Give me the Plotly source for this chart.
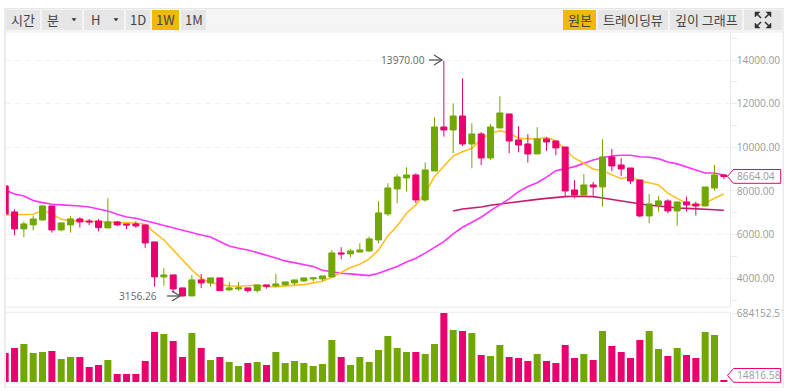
import plotly.graph_objects as go

opens = [8230,7040,6260,6445,6672,7313,6214,6445,6718,6625,6625,6306,6580,6490,6490,6443,5664,4061,4153,3558,3190,3924,3786,4016,3466,3512,3558,3435,3695,3650,3695,3786,3878,3970,3970,4061,5161,5115,5206,5252,5756,6947,8092,8596,8733,7588,8916,10932,10794,11435,10153,10611,9512,10886,11527,10336,10153,9695,10382,10290,10015,8046,7817,8275,8183,9558,9190,9053,8504,6855,7360,7543,7085,7497,7405,7313,8138,8733]
closes = [6947,6260,6490,6718,7313,6214,6535,6718,6580,6580,6320,6580,6443,6443,6397,5618,4061,4153,3512,3190,3924,3786,4016,3435,3558,3558,3435,3695,3635,3741,3833,3924,4016,4016,4107,5161,5115,5252,5298,5802,6993,8138,8640,8733,7588,8962,10932,10794,11435,10153,10611,9512,10932,11573,10290,10107,9695,10382,10245,9970,8000,7817,8275,8183,9558,9145,9008,8458,6855,7405,7543,7085,7497,7360,7313,8183,8733,8664.04]
highs = [8230,7160,6595,6870,7350,7313,6560,6855,6795,6718,6718,7665,6625,6490,6600,6443,5664,4460,4153,3558,4153,4200,4016,4016,3830,3830,3558,3695,3695,4200,3833,3924,4016,4016,4107,5298,5420,5345,5605,5920,7530,8350,8765,9085,8810,9310,11376,13970,12015,13160,11100,10700,11070,12337,11527,10960,10600,10920,10460,10290,10015,8504,8780,8412,10370,9925,9500,9053,8504,7863,7770,7620,7497,7740,7510,8183,9190,8760]
lows = [6900,5970,5880,6200,6640,6090,6150,6090,6320,6430,6150,6306,6397,6245,6310,5390,3620,3660,3330,3156.26,3190,3545,3620,3435,3440,3420,3340,3340,3525,3600,3695,3680,3830,3850,3870,4061,4870,4965,5180,5200,5605,6855,7440,7970,7440,7510,8916,10490,9727,10060,9040,9180,9420,10886,9727,9770,9300,9695,9845,9635,7770,7665,7760,7785,7280,8900,8675,8320,6795,6520,7050,6980,6410,7050,6870,7313,8020,8550]
volumes = [287500,337100,376800,287500,297500,307400,228000,247900,247900,148700,168600,218100,79300,79300,79300,208200,495800,475900,406500,247900,485800,337100,218100,247900,198300,158600,188400,198300,168600,297500,188400,208200,188400,158600,178500,416400,247900,168600,247900,198300,317300,456100,337100,297500,297500,277600,376800,684152.51,515600,505700,485800,267700,257800,366900,247900,238000,208200,277600,208200,188400,366900,238000,277600,218100,505700,357000,297500,238000,416400,505700,327200,257800,337100,267700,238000,495800,466000,14816.58]
ma_fast = [6900,6900,6915,6930,7100,6950,6700,6640,6625,6610,6580,6565,6550,6550,6530,6475,6090,5756,5298,4810,4382,4000,3800,3710,3650,3635,3660,3680,3620,3600,3650,3680,3710,3787,3865,4050,4260,4490,4645,4885,5298,5940,6400,6980,7360,7900,8660,9115,9600,9800,9955,10370,10640,10750,10670,10410,10400,10380,10460,10300,9900,9500,9270,9000,8930,8733,8565,8660,8470,8380,8275,7900,7665,7420,7310,7435,7665,7860]
ma_mid = [8046,7863,7770,7560,7465,7390,7360,7345,7313,7268,7190,7085,6930,6810,6750,6640,6520,6430,6290,6214,6090,5985,5890,5680,5480,5375,5298,5175,5070,4930,4795,4705,4625,4535,4370,4305,4230,4200,4155,4120,4230,4380,4540,4745,4920,5150,5420,5680,6030,6335,6565,6795,7100,7375,7635,7970,8200,8380,8630,8930,9040,9115,9270,9420,9525,9600,9635,9635,9570,9545,9480,9330,9240,9115,8960,8825,8825,8735]
ma_slow = [None]*48 + [7085,7175,7220,7265,7345,7405,7465,7525,7570,7615,7660,7710,7740,7755,7755,7740,7680,7615,7555,7495,7405,7345,7310,7250,7220,7200,7190,7160,7140,7115]
price_ticks = [14000, 12000, 10000, 8000, 6000, 4000]
price_labels = ["14000.00", "12000.00", "10000.00", "8000.00", "6000.00", "4000.00"]
left_buttons = [("시간",6,40,False),("분",42,82,False),("H",84,124,False),("1D",126,150,False),("1W",152,179,True),("1M",181,206,False)]
right_buttons = [("원본",563,596,True),("트레이딩뷰",598,668,False),("깊이 그래프",670,742,False)]

W, H = 788, 391
PINK, GREEN = "#EB006F", "#71A700"
BORDER, GRID = "#EBEBEB", "#F2F2F2"
TXT, TICK = "#444444", "#9A9A9A"
FONT_NUM = "Open Sans"
FONT_KR = "Noto Sans CJK KR"
NUM_SIZE = 10.2
xp = lambda x: x / W
yp = lambda y: 1 - y / H
X0, X1 = 5.0, 729.7
STEP, C0 = 9.333, 5.2
PT, PB = 32.0, 307.0
VT, VB = 312.0, 387.0
PPX = 2000 / 43.65
VPX = 684152.51 / 69

xs = list(range(len(opens)))
vol_colors = [GREEN if c >= o else PINK for o, c in zip(opens, closes)]
price_range = [14000 - (PB - 60) * PPX, 14000 + (60 - PT) * PPX]
vol_range = [-(VB - 382) * VPX, (382 - VT) * VPX]
x_range = [(X0 - C0) / STEP, (X1 - C0) / STEP]

fig = go.Figure()
for vals, col in [(ma_slow, "#C71A6E"), (ma_mid, "#FF33FF"), (ma_fast, "#FFC125")]:
    fig.add_trace(go.Scatter(x=xs, y=vals, mode="lines", line=dict(color=col, width=1.6),
                             xaxis="x", yaxis="y", hoverinfo="skip", connectgaps=False))
fig.add_trace(go.Candlestick(x=xs, open=opens, high=highs, low=lows, close=closes,
                             increasing=dict(line=dict(color=GREEN, width=1), fillcolor=GREEN),
                             decreasing=dict(line=dict(color=PINK, width=1), fillcolor=PINK),
                             whiskerwidth=0, xaxis="x", yaxis="y3"))
fig.add_trace(go.Bar(x=xs, y=volumes, marker=dict(color=vol_colors, line=dict(width=0)),
                     width=0.75, xaxis="x2", yaxis="y2", hoverinfo="skip"))

shapes, ann = [], []

def rect(x0, y0, x1, y1, fill, line=None, layer="above"):
    shapes.append(dict(type="rect", xref="paper", yref="paper", x0=xp(x0), x1=xp(x1), y0=yp(y0), y1=yp(y1),
                       fillcolor=fill, line=dict(width=0 if line is None else 1, color=line or fill), layer=layer))

def seg(pts, color, width=1, fill=None):
    d = "M" + " L".join(f"{xp(a):.5f},{yp(b):.5f}" for a, b in pts)
    if fill:
        d += " Z"
    shapes.append(dict(type="path", xref="paper", yref="paper", path=d,
                       line=dict(color=color, width=width), fillcolor=fill or "rgba(0,0,0,0)", layer="above"))

def label(x, y, text, color=TXT, size=12, font=FONT_KR, anchor="center"):
    ann.append(dict(xref="paper", yref="paper", x=xp(x), y=yp(y), text=text, showarrow=False,
                    xanchor=anchor, yanchor="middle", borderpad=0,
                    font=dict(family=font, size=size, color=color)))

# frame and panel borders
rect(783, 300, 788, 330, "#FFFFFF")
rect(4, 8, 6, 388, BORDER)
rect(782.5, 8, 784, 388, BORDER)
rect(5, 8, 783, 9.5, "#E6E6E6")
rect(6, 9.5, 782.5, 31.5, "#F5F5F5")
rect(5, 31.5, 783, 32.5, BORDER)
rect(5, 306.7, 730, 307.7, BORDER)
rect(5, 311.7, 730, 312.7, BORDER)
rect(5, 386.5, 783, 387.5, BORDER)

# toolbar
for text, a, b, active in left_buttons + right_buttons:
    rect(a, 10, b, 30, "#F0B90B" if active else "#E6E6E6")
    cx = (a + b) / 2
    if text in ("분", "H"):
        cx = a + 11
        seg([(b - 10, 18.5), (b - 6, 18.5), (b - 8, 21)], "#333333", 0.5, "#333333")
    label(cx, 20, text, size=13)
rect(744, 10, 782.3, 30, "#E6E6E6")
for sx, sy in [(-1, -1), (1, -1), (-1, 1), (1, 1)]:
    cx, cy = 763, 20
    seg([(cx + sx * 2, cy + sy * 2), (cx + sx * 7, cy + sy * 7)], "#333333", 1.5)
    seg([(cx + sx * 8, cy + sy * 8), (cx + sx * 3, cy + sy * 8), (cx + sx * 8, cy + sy * 3)], "#333333", 0.5, "#333333")

# high / low markers
label(425.5, 59.5, "13970.00", color="#666666", size=NUM_SIZE, font=FONT_NUM, anchor="right")
seg([(429, 60), (442, 60)], "#555555", 1.3)
seg([(434, 55), (442, 60), (434, 65)], "#555555", 1.3)
label(158, 295.5, "3156.26", color="#666666", size=NUM_SIZE, font=FONT_NUM, anchor="right")
seg([(167, 296), (180, 296)], "#555555", 1.3)
seg([(172, 291), (180, 296), (172, 301)], "#555555", 1.3)

# last-value tags
for text, ya, yb in [("8664.04", 169.5, 183.3), ("14816.58", 368.5, 382.3)]:
    ym = (ya + yb) / 2
    d = [(727.5, ym), (733.5, ya), (780.7, ya), (780.7, yb), (733.5, yb)]
    seg(d, PINK, 1, "#FFFFFF")
    label(736, ym, text, color=TICK, size=NUM_SIZE, font=FONT_NUM, anchor="left")

fig.update_layout(
    width=W, height=H, margin=dict(l=0, r=0, t=0, b=0, autoexpand=False), paper_bgcolor="#FFFFFF", plot_bgcolor="#FFFFFF",
    showlegend=False, boxgap=0.357, boxgroupgap=0, shapes=shapes, annotations=ann, hovermode=False,
    xaxis=dict(domain=[xp(X0), xp(X1)], range=x_range, visible=False, rangeslider=dict(visible=False), anchor="y", automargin=False),
    xaxis2=dict(domain=[xp(X0), xp(X1)], range=x_range, visible=False, anchor="y2", matches="x", automargin=False),
    yaxis=dict(domain=[yp(PB), yp(PT)], range=price_range, side="right", anchor="x", automargin=False,
               tickvals=price_ticks, ticktext=price_labels, ticks="outside", ticklen=6, tickcolor=BORDER,
               ticklabelstandoff=-2,
               showgrid=True, gridcolor=GRID, griddash="6px,4px", gridwidth=1, zeroline=False,
               showline=True, linecolor=BORDER, linewidth=1, mirror=False,
               tickfont=dict(family=FONT_NUM, size=NUM_SIZE, color=TICK),
               minor=dict(dtick=1000, tick0=0, ticks="outside", ticklen=6, tickcolor=BORDER, showgrid=False)),
    yaxis3=dict(domain=[yp(PB), yp(PT)], range=price_range, overlaying="y", side="right", anchor="x", visible=False, automargin=False),
    yaxis2=dict(domain=[yp(VB), yp(VT)], range=vol_range, side="right", anchor="x2", automargin=False,
                tickvals=[684152.51], ticktext=["684152.51"], ticks="outside", ticklen=6, tickcolor=BORDER,
                ticklabelstandoff=-2,
                showgrid=False, zeroline=False, showline=True, linecolor=BORDER, linewidth=1,
                tickfont=dict(family=FONT_NUM, size=NUM_SIZE, color=TICK)),
)
fig.write_html("out.html", config=dict(displayModeBar=False),
               post_script="document.body.style.margin='0';document.body.style.overflow='hidden';")
